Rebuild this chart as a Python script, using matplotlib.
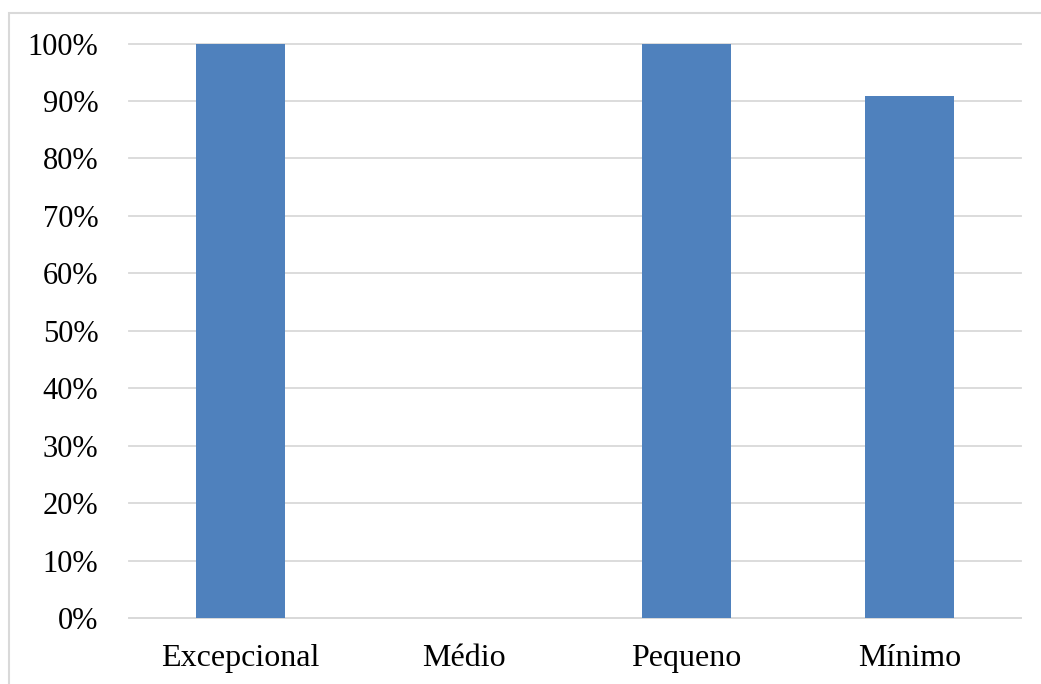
import matplotlib
matplotlib.use("Agg")
import matplotlib.pyplot as plt
from matplotlib.patches import Rectangle
from matplotlib.ticker import PercentFormatter

categorias = ["Excepcional", "Médio", "Pequeno", "Mínimo"]
valores = [1.0, 0.0, 1.0, 0.909]

plt.rcParams["font.family"] = ["Liberation Serif", "DejaVu Serif"]

fig = plt.figure(figsize=(10.41, 6.84), dpi=100)
ax = fig.add_axes([0.1239, 0.0965, 0.8569, 0.8399])

x = range(len(categorias))
ax.bar(x, valores, width=0.4, color="#4F81BD", zorder=3)

ax.set_xlim(-0.5, len(categorias) - 0.5)
ax.set_ylim(0, 1)
ax.set_yticks([i / 10 for i in range(11)])
ax.yaxis.set_major_formatter(PercentFormatter(1.0, decimals=0))
ax.set_xticks(list(x))
ax.set_xticklabels(categorias)

ax.grid(axis="y", color="#D9D9D9", linewidth=1.3, zorder=0)
for line in ax.get_ygridlines():
    line.set_clip_on(False)
for side in ("left", "right", "top"):
    ax.spines[side].set_visible(False)
ax.spines["bottom"].set_color("#D9D9D9")
ax.spines["bottom"].set_linewidth(1.3)
ax.tick_params(axis="y", length=0, pad=22, labelsize=22)
ax.tick_params(axis="x", length=0, pad=19, labelsize=23)

# moldura do gráfico (cortada à direita e embaixo)
fig.patches.append(Rectangle((9 / 1041, -0.02), 1.05, 1.02 - 13 / 684,
                             transform=fig.transFigure, fill=False,
                             edgecolor="#D9D9D9", linewidth=1.5))

fig.savefig("out.png", dpi=100)
